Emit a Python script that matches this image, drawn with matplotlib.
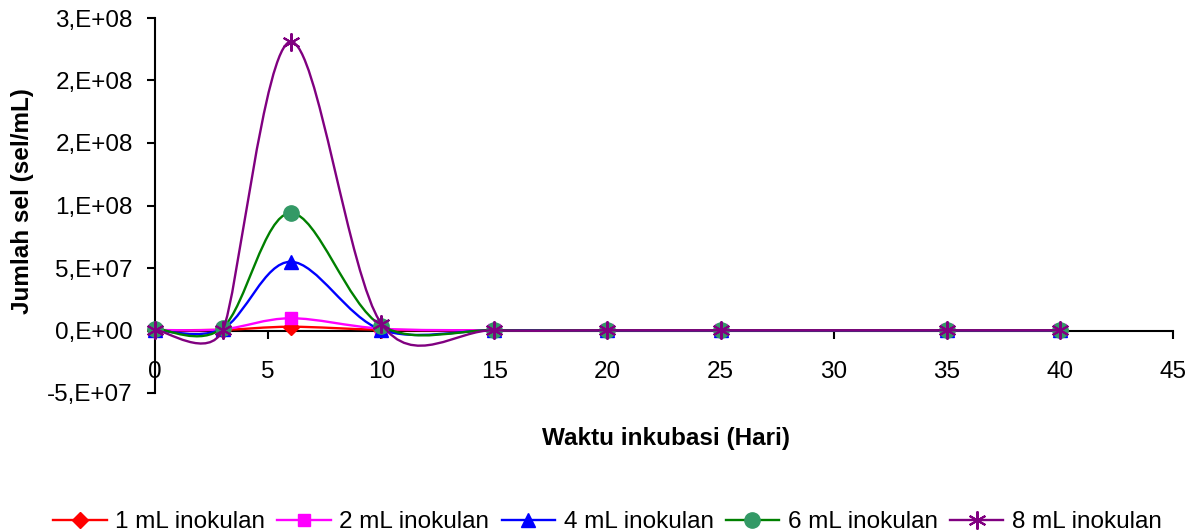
import math
import numpy as np
import matplotlib
matplotlib.use("Agg")
import matplotlib.pyplot as plt
from matplotlib.path import Path
from matplotlib.patches import PathPatch
from matplotlib.lines import Line2D
from matplotlib.ticker import FuncFormatter, MultipleLocator

plt.rcParams['font.family'] = ['Liberation Sans', 'DejaVu Sans']

# Waktu inkubasi (hari) dan jumlah sel (sel/mL) per volume inokulan
hari = [0, 3, 6, 10, 15, 20, 25, 35, 40]
sel_1ml = [3e5, 5e5, 3.0e6, 6e5, 1e5, 1e5, 1e5, 1e5, 1e5]
sel_2ml = [4e5, 1.0e6, 9.8e6, 1.5e6, 1e5, 1e5, 1e5, 1e5, 1e5]
sel_4ml = [2e5, 1.5e6, 5.5e7, 6e5, 1e5, 1e5, 1e5, 1e5, 1e5]
sel_6ml = [1.6e6, 2.4e6, 9.4e7, 4.0e6, 2e5, 2e5, 2e5, 2e5, 2e5]
sel_8ml = [5e5, 5e5, 2.31e8, 5.6e6, 2e5, 2e5, 2e5, 2e5, 2e5]
labels = ['1 mL inokulan', '2 mL inokulan', '4 mL inokulan', '6 mL inokulan', '8 mL inokulan']

series = [
    (sel_1ml, dict(color='#FF0000', marker='D', mfc='#FF0000', mec='#FF0000', ms=8)),
    (sel_2ml, dict(color='#FF00FF', marker='s', mfc='#FF00FF', mec='#FF00FF', ms=8)),
    (sel_4ml, dict(color='#0000FF', marker='^', mfc='#0000FF', mec='#0000FF', ms=10)),
    (sel_6ml, dict(color='#008000', marker='o', mfc='#339966', mec='#339966', ms=11)),
    (sel_8ml, dict(color='#800080', marker=(6, 2, 0), mfc='#800080', mec='#800080', ms=13, mew=1.5)),
]

FS = 17.5

fig = plt.figure(figsize=(12.03, 5.32), dpi=100)
ax = fig.add_axes([155 / 1203, 1 - 393 / 532, 1018 / 1203, 375 / 532])
ax.set_xlim(0, 45)
ax.set_ylim(-5e7, 2.5e8)


def smooth_path(xs, ys):
    # kurva Bezier gaya "smoothed line", dihitung di koordinat layar
    p = ax.transData.transform(np.column_stack([xs, ys]))
    n = len(p)
    tang = []
    for i in range(n):
        a = p[max(i - 1, 0)]
        b = p[min(i + 1, n - 1)]
        t = (b - a) / 6.0
        seg = []
        if i > 0:
            seg.append(np.hypot(*(p[i] - p[i - 1])))
        if i < n - 1:
            seg.append(np.hypot(*(p[i + 1] - p[i])))
        lim = 0.5 * min(seg)
        ln = np.hypot(*t)
        if ln > lim and ln > 0:
            t = t * lim / ln
        tang.append(t)
    verts = [p[0]]
    codes = [Path.MOVETO]
    for i in range(n - 1):
        verts += [p[i] + tang[i], p[i + 1] - tang[i + 1], p[i + 1]]
        codes += [Path.CURVE4] * 3
    verts = ax.transData.inverted().transform(np.array(verts))
    return Path(verts, codes)


handles = []
for k, (vals, st) in enumerate(series):
    patch = PathPatch(smooth_path(hari, vals), facecolor='none', edgecolor=st['color'],
                      lw=1.7, zorder=3 + k, clip_on=False)
    ax.add_patch(patch)
    ax.plot(hari, vals, ls='none', marker=st['marker'], ms=st['ms'], mfc=st['mfc'],
            mec=st['mec'], mew=st.get('mew', 1), zorder=3.5 + k, clip_on=False)
    handles.append(Line2D([], [], color=st['color'], lw=1.7, marker=st['marker'], ms=st['ms'],
                          mfc=st['mfc'], mec=st['mec'], mew=st.get('mew', 1), label=labels[k]))

# sumbu
for s in ['top', 'right']:
    ax.spines[s].set_visible(False)
ax.spines['bottom'].set_position(('data', 0))
ax.spines['bottom'].set_linewidth(1.5)
ax.spines['left'].set_linewidth(1.5)
ax.xaxis.set_major_locator(MultipleLocator(5))
ax.yaxis.set_major_locator(MultipleLocator(5e7))


def fmt_excel(v, pos):
    if v == 0:
        return '0,E+00'
    e = int(math.floor(math.log10(abs(v))))
    m = v / 10 ** e
    m = int(math.copysign(math.floor(abs(m) + 0.5), m))
    return f'{m},E{e:+03d}'


ax.yaxis.set_major_formatter(FuncFormatter(fmt_excel))
ax.tick_params(axis='both', direction='out', length=6, width=1.5, labelsize=FS)
ax.tick_params(axis='x', pad=16)
ax.tick_params(axis='y', pad=10)

ax.set_xlabel('Waktu inkubasi (Hari)', fontsize=FS, fontweight='bold')
ax.xaxis.set_label_coords(0.502, (393 - 427) / 375)
ax.set_ylabel('Jumlah sel (sel/mL)', fontsize=FS, fontweight='bold')
ax.yaxis.set_label_coords((34 - 155) / 1018, (393 - 201) / 375)

fig.legend(handles=handles, loc='center', bbox_to_anchor=(0.505, 1 - 522 / 532), ncol=5,
           frameon=False, fontsize=FS, handlelength=2.2, handletextpad=0.35,
           columnspacing=0.5, borderaxespad=0)

fig.savefig('out.png', dpi=100)
